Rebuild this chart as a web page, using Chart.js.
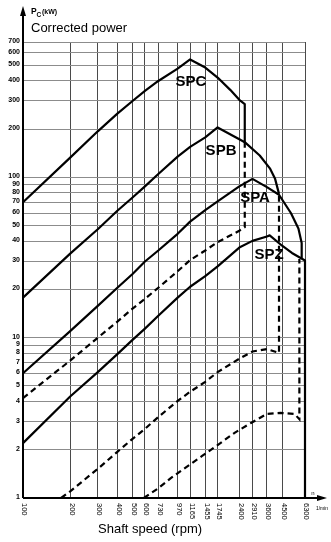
<!DOCTYPE html>
<html>
<head>
<meta charset="utf-8">
<script src="https://cdn.jsdelivr.net/npm/chart.js@4/dist/chart.umd.min.js"></script>
<style>
  html, body { margin: 0; padding: 0; background: #fff; }
  canvas { display: block; }
</style>
</head>
<body>
<canvas id="chart" width="331" height="542"></canvas>
<script>
// Grid / tick positions
const speedTicks = [100, 200, 300, 400, 500, 600, 730, 970, 1165, 1455, 1745, 2400, 2910, 3600, 4500, 6300];
const powerTicks = [1, 2, 3, 4, 5, 6, 7, 8, 9, 10, 20, 30, 40, 50, 60, 70, 80, 90, 100, 200, 300, 400, 500, 600, 700];

// SPC power curve (solid), ending in a drop at its maximum speed
const spcSpeed = [100, 200, 300, 400, 500, 600, 730, 970, 1165, 1455, 1745, 2100, 2400, 2600, 2600];
const spcPower = [70, 133, 194, 250, 300, 347, 400, 478, 545, 485, 420, 352, 305, 287, 166];
// dashed branch below SPC
const spcDashSpeed = [100, 200, 300, 400, 500, 600, 730, 970, 1165, 1455, 1745, 2400, 2600, 2600];
const spcDashPower = [4.2, 7.2, 10, 12.6, 15.2, 17.5, 20.5, 26, 30.5, 35, 39.5, 46.5, 49, 166];

// SPB
const spbSpeed = [100, 200, 300, 400, 500, 600, 730, 970, 1165, 1455, 1745, 2400, 2600, 3240, 3760, 4060, 4300];
const spbPower = [17.8, 33.5, 47.5, 62, 75, 88, 105, 135, 155, 178, 205, 173, 166, 137, 114, 98, 79];
const spbDashSpeed = [175, 200, 300, 400, 500, 600, 730, 970, 1165, 1455, 1745, 2400, 2910, 3600, 4300, 4300];
const spbDashPower = [1, 1.1, 1.52, 1.94, 2.34, 2.7, 3.2, 4.03, 4.6, 5.3, 6.1, 7.4, 8.2, 8.5, 8.05, 79];

// SPA
const spaSpeed = [100, 200, 300, 400, 500, 600, 730, 970, 1165, 1455, 1745, 2400, 2910, 3600, 4300, 5120, 5720, 6000, 6000];
const spaPower = [6, 11, 15.8, 20.5, 25, 29.9, 35, 44.5, 53, 62.5, 71, 88, 98, 87, 78, 60, 48, 39, 31.5];

// SPZ
const spzSpeed = [100, 200, 300, 400, 500, 600, 730, 970, 1165, 1455, 1745, 2400, 2910, 3600, 3750, 4500, 5200, 6300, 6300];
const spzPower = [2.2, 4.3, 6.1, 7.9, 9.7, 11.4, 13.7, 17.8, 20.8, 24.2, 27.9, 36.5, 40.2, 42.8, 43.5, 37.5, 33.8, 30.3, 1];
const spzDashSpeed = [590, 730, 877, 1165, 1390, 1745, 2240, 2850, 3600, 4400, 5400, 5800, 5800];
const spzDashPower = [1, 1.15, 1.33, 1.62, 1.83, 2.14, 2.55, 2.94, 3.35, 3.4, 3.35, 3.1, 31];

// Section names and where they sit (speed, power)
const sectionNames = ['SPC', 'SPB', 'SPA', 'SPZ'];
const sectionSpeed = [1180, 1835, 3024, 3715];
const sectionPower = [394, 146, 74.5, 32.8];

const pts = (xs, ys) => xs.map((x, i) => ({ x: x, y: ys[i] }));

function solid(label, xs, ys) {
  return { label, data: pts(xs, ys), borderColor: '#000', borderWidth: 2.2,
           pointRadius: 0, fill: false, tension: 0, clip: false, borderJoinStyle: 'round' };
}
function dashed(label, xs, ys) {
  return { label, data: pts(xs, ys), borderColor: '#000', borderWidth: 2.2,
           borderDash: [6, 4], pointRadius: 0, fill: false, tension: 0, clip: false };
}

const decorations = {
  id: 'decorations',
  afterDatasetsDraw(chart) {
    const ctx = chart.ctx;
    const xs = chart.scales.x, ys = chart.scales.y;
    const area = chart.chartArea;
    ctx.save();
    ctx.fillStyle = '#000';
    ctx.strokeStyle = '#000';

    // axes with arrows
    ctx.lineWidth = 2;
    ctx.beginPath();
    ctx.moveTo(area.left, area.bottom);
    ctx.lineTo(area.left, 14);
    ctx.moveTo(area.left, area.bottom);
    ctx.lineTo(320, area.bottom);
    ctx.stroke();
    ctx.beginPath();
    ctx.moveTo(area.left, 6);
    ctx.lineTo(area.left - 3, 16);
    ctx.lineTo(area.left + 3, 16);
    ctx.closePath();
    ctx.fill();
    ctx.beginPath();
    ctx.moveTo(327, area.bottom);
    ctx.lineTo(317, area.bottom - 3);
    ctx.lineTo(317, area.bottom + 3);
    ctx.closePath();
    ctx.fill();

    // y tick labels
    ctx.font = "bold 7px 'Liberation Sans', Arial, sans-serif";
    ctx.textAlign = 'right';
    ctx.textBaseline = 'alphabetic';
    powerTicks.forEach(v => {
      ctx.fillText(String(v), 20, ys.getPixelForValue(v) + 1);
    });

    // x tick labels, rotated
    ctx.font = "7.5px 'Liberation Sans', Arial, sans-serif";
    ctx.textAlign = 'left';
    ctx.textBaseline = 'middle';
    speedTicks.forEach(v => {
      const px = xs.getPixelForValue(v);
      ctx.save();
      ctx.translate(px + 1.5, area.bottom + 5);
      ctx.rotate(Math.PI / 2);
      ctx.fillText(String(v), 0, 0);
      ctx.restore();
    });

    // n, 1/min at the arrow tip
    ctx.textAlign = 'center';
    ctx.textBaseline = 'alphabetic';
    ctx.font = "6px 'Liberation Sans', Arial, sans-serif";
    ctx.fillText('n', 313, area.bottom - 3);
    ctx.font = "5px 'Liberation Sans', Arial, sans-serif";
    ctx.fillText('1/min', 322, area.bottom + 12);

    // axis titles
    ctx.textAlign = 'left';
    ctx.font = "bold 8.5px 'Liberation Sans', Arial, sans-serif";
    ctx.fillText('P', 31, 14);
    ctx.font = "bold 6.5px 'Liberation Sans', Arial, sans-serif";
    ctx.fillText('C', 36.5, 17);
    ctx.font = "bold 7px 'Liberation Sans', Arial, sans-serif";
    ctx.fillText('(kW)', 42, 14);
    ctx.font = "13px 'Liberation Sans', Arial, sans-serif";
    ctx.fillText('Corrected power', 31, 32);
    ctx.fillText('Shaft speed (rpm)', 98, 533);

    // section names
    ctx.font = "bold 15px 'Liberation Sans', Arial, sans-serif";
    ctx.textAlign = 'center';
    ctx.textBaseline = 'middle';
    sectionNames.forEach((name, i) => {
      ctx.fillText(name, xs.getPixelForValue(sectionSpeed[i]), ys.getPixelForValue(sectionPower[i]));
    });
    ctx.restore();
  }
};

new Chart(document.getElementById('chart'), {
  type: 'line',
  data: {
    datasets: [
      solid('SPC', spcSpeed, spcPower),
      dashed('SPC dashed', spcDashSpeed, spcDashPower),
      solid('SPB', spbSpeed, spbPower),
      dashed('SPB dashed', spbDashSpeed, spbDashPower),
      solid('SPA', spaSpeed, spaPower),
      solid('SPZ', spzSpeed, spzPower),
      dashed('SPZ dashed', spzDashSpeed, spzDashPower)
    ]
  },
  options: {
    responsive: false,
    animation: false,
    devicePixelRatio: 1,
    layout: { padding: { top: 42, right: 26, left: 0, bottom: 0 } },
    plugins: { legend: { display: false }, tooltip: { enabled: false } },
    scales: {
      x: {
        type: 'logarithmic', min: 100, max: 6300,
        afterBuildTicks: s => { s.ticks = speedTicks.map(v => ({ value: v })); },
        afterFit: s => { s.height = 44; },
        ticks: { display: false },
        grid: { color: '#4a4a4a', lineWidth: 1, drawTicks: false },
        border: { display: false }
      },
      y: {
        type: 'logarithmic', min: 1, max: 700,
        afterBuildTicks: s => { s.ticks = powerTicks.map(v => ({ value: v })); },
        afterFit: s => { s.width = 23; },
        ticks: { display: false },
        grid: { color: '#8c8c8c', lineWidth: 1, drawTicks: false },
        border: { display: false }
      }
    }
  },
  plugins: [decorations]
});
</script>
</body>
</html>
